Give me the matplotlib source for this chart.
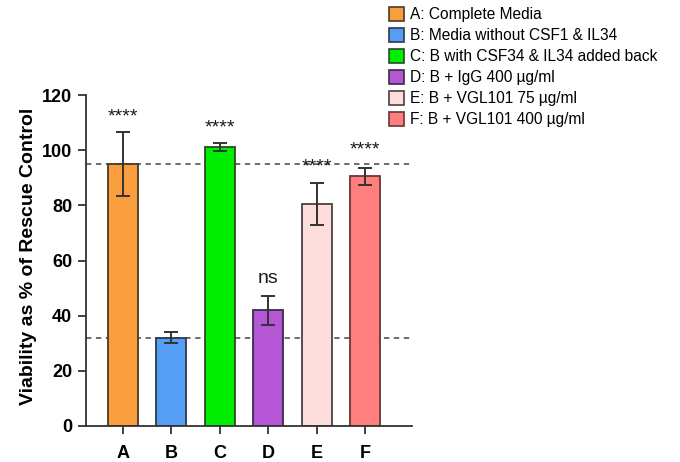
import matplotlib
matplotlib.use("Agg")
import matplotlib.pyplot as plt
from matplotlib.patches import Patch

plt.rcParams['font.family'] = ['Liberation Sans', 'DejaVu Sans']

groups = ['A', 'B', 'C', 'D', 'E', 'F']
legend_labels = [
    'A: Complete Media',
    'B: Media without CSF1 & IL34',
    'C: B with CSF34 & IL34 added back',
    'D: B + IgG 400 \u00b5g/ml',
    'E: B + VGL101 75 \u00b5g/ml',
    'F: B + VGL101 400 \u00b5g/ml',
]
means = [95.0, 32.0, 101.3, 42.0, 80.5, 90.5]
errors = [11.7, 2.0, 1.5, 5.2, 7.5, 3.0]
significance = ['****', '', '****', 'ns', '****', '****']
sig_heights = [112.0, None, 108.0, 53.5, 94.0, 100.0]
reference_lines = [95.0, 32.0]
colors = ['#F99E3E', '#559DF5', '#00EE00', '#B556D6', '#FEDDDD', '#FF7F7F']
edge_colors = ['#4a3a2a', '#2a3a4a', '#2a4a2a', '#3a2a45', '#4a4040', '#6a3535']
yticks = [0, 20, 40, 60, 80, 100, 120]

fig = plt.figure(figsize=(6.8, 4.62), dpi=100)
ax = fig.add_axes([0.1265, 0.078, 0.4795, 0.716])

x = list(range(len(groups)))
ax.bar(x, means, width=0.62, color=colors, edgecolor=edge_colors,
       linewidth=1.3, zorder=2)
ax.errorbar(x, means, yerr=errors, fmt='none', ecolor='#333333',
            elinewidth=1.4, capsize=5, capthick=1.4, zorder=3)

for yv in reference_lines:
    ax.axhline(yv, color='#444444', linestyle=(0, (3.5, 3.0)),
               linewidth=1.1, zorder=1)

for xi, s, h in zip(x, significance, sig_heights):
    if s:
        ax.text(xi, h, s, ha='center', va='center', fontsize=14,
                color='#1a1a1a', zorder=4)

ax.set_xlim(-0.764, 5.97)
ax.set_ylim(0, 120)
ax.set_yticks(yticks)
ax.set_xticks(x)
ax.set_xticklabels(groups)
for lbl in ax.get_xticklabels() + ax.get_yticklabels():
    lbl.set_fontweight('bold')
    lbl.set_fontsize(13)
ax.tick_params(axis='both', direction='out', length=6, width=1.3,
               color='#333333', pad=4)
ax.tick_params(axis='x', pad=8)
ax.set_ylabel('Viability as % of Rescue Control', fontsize=14,
              fontweight='bold')
ax.yaxis.set_label_coords(-0.15, 0.514)

for side in ['top', 'right']:
    ax.spines[side].set_visible(False)
for side in ['left', 'bottom']:
    ax.spines[side].set_linewidth(1.3)
    ax.spines[side].set_color('#333333')

handles = [Patch(facecolor=c, edgecolor=e, linewidth=1.2)
           for c, e in zip(colors, edge_colors)]
fig.legend(handles, legend_labels, loc='upper left',
           bbox_to_anchor=(0.558, 1.005), frameon=False, fontsize=11.2,
           handlelength=0.97, handleheight=0.97, handletextpad=0.4,
           labelspacing=0.38, borderaxespad=0.2)

fig.savefig('out.png', dpi=100)
